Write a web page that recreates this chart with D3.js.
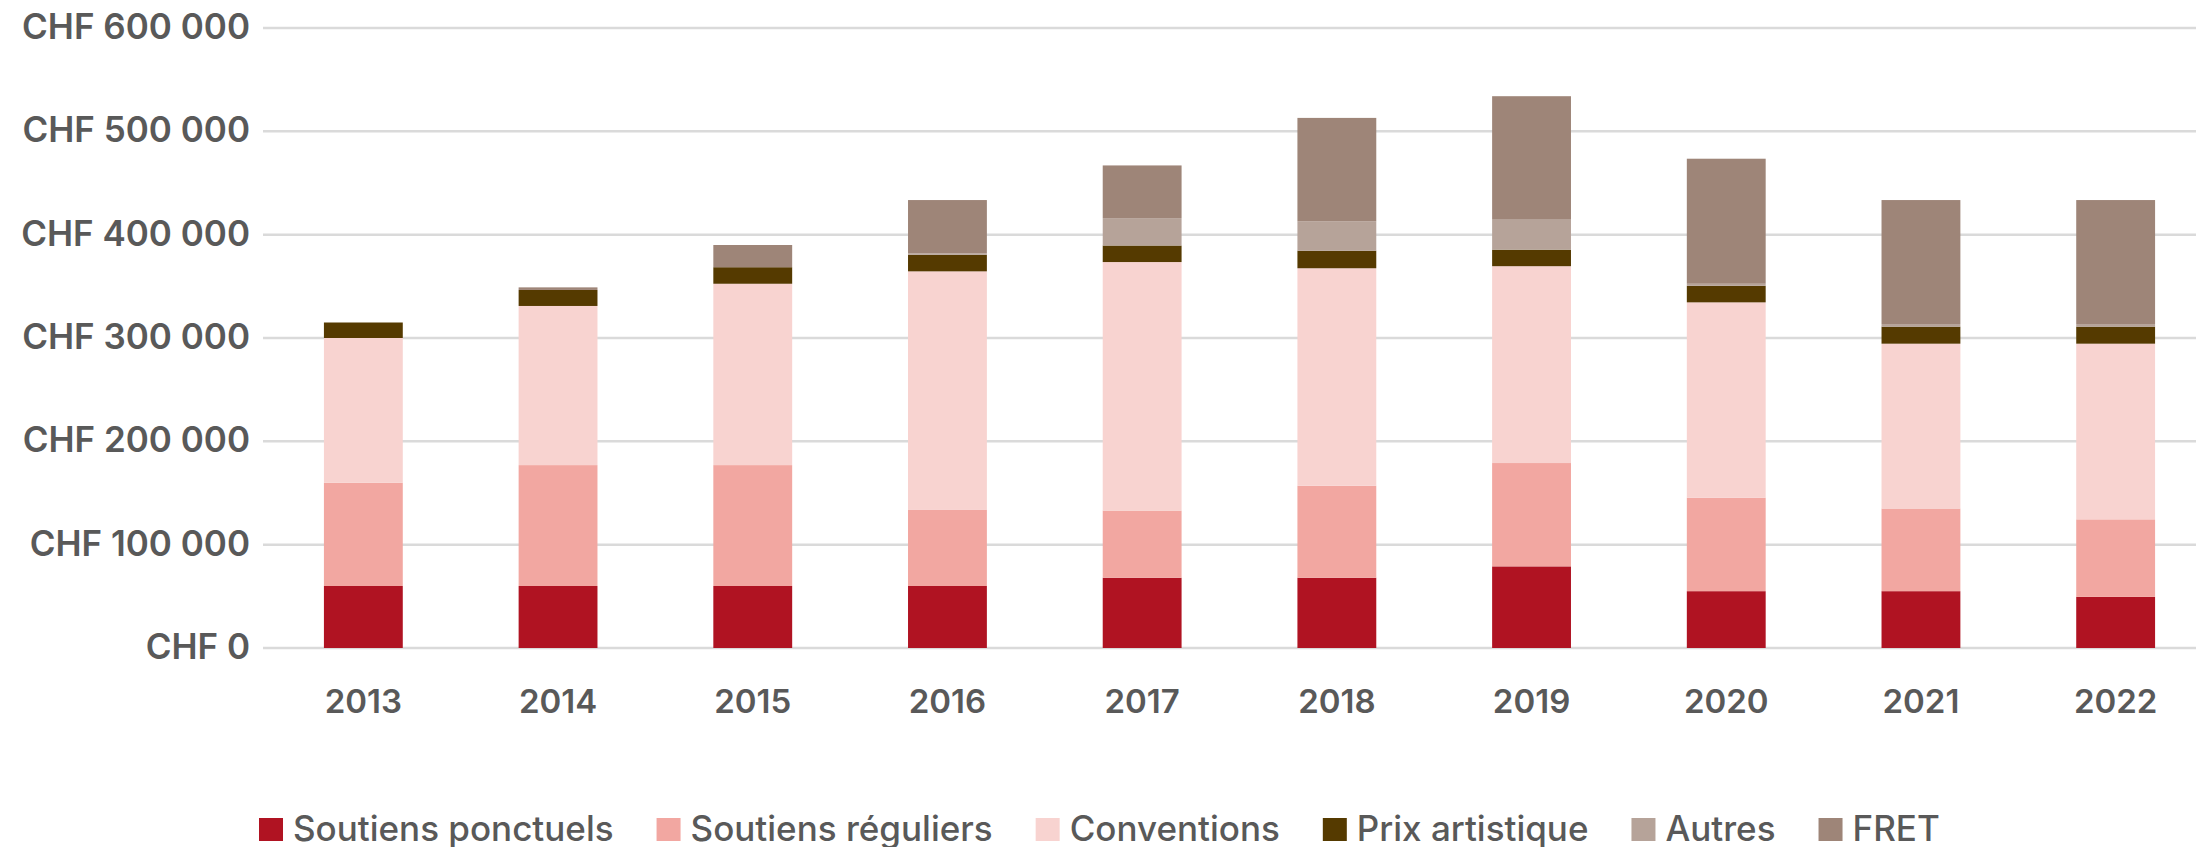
<!DOCTYPE html>
<html>
<head>
<meta charset="utf-8">
<script src="https://cdn.jsdelivr.net/npm/d3@7"></script>
<style>
  html, body { margin: 0; padding: 0; background: #fff; overflow: hidden; }
  text { font-family: Inter, "Open Sans", sans-serif; fill: #595959; }
</style>
</head>
<body>
<svg id="chart"></svg>
<script>
const years = ['2013', '2014', '2015', '2016', '2017', '2018', '2019', '2020', '2021', '2022'];
const series_names = ['Soutiens ponctuels', 'Soutiens réguliers', 'Conventions', 'Prix artistique', 'Autres', 'FRET'];
const series_keys = ['ponctuels', 'reguliers', 'conventions', 'prix', 'autres', 'fret'];
const series_colors = ['#b01322', '#f2a7a1', '#f8d3d0', '#553a00', '#b6a399', '#9e8578'];

const ponctuels   = [60000, 60000, 60000, 60000, 68000, 68000, 79000, 55000, 55000, 49500];
const reguliers   = [100000, 117000, 117000, 74000, 65000, 89000, 100000, 90500, 80000, 75000];
const conventions = [140000, 154000, 175500, 230500, 240500, 210500, 190500, 189000, 159500, 170000];
const prix        = [15000, 15500, 16000, 16000, 16000, 17000, 16000, 16000, 16500, 16500];
const autres      = [0, 0, 0, 1500, 26500, 28500, 29000, 2000, 2500, 2500];
const fret        = [0, 2500, 21500, 51500, 51000, 100000, 119500, 121000, 120000, 120000];

const y_ticks = [0, 100000, 200000, 300000, 400000, 500000, 600000];

// one row per year, built from the arrays above
const table = years.map( (y, i) => ({
    year: y,
    ponctuels: ponctuels[i],
    reguliers: reguliers[i],
    conventions: conventions[i],
    prix: prix[i],
    autres: autres[i],
    fret: fret[i]
}));

class StackedBarChart {

    constructor( config, data ) {
        this.config = {
            parent: config.parent,
            width: config.width || 256,
            height: config.height || 256,
            margin: config.margin || {top:10, right:10, bottom:10, left:10}
        }
        this.data = data;
        this.init();
    }

    init() {
        let self = this;

        self.svg = d3.select( self.config.parent )
            .attr('width', self.config.width)
            .attr('height', self.config.height);

        self.chart = self.svg.append('g')
            .attr('transform', `translate(${self.config.margin.left}, ${self.config.margin.top})`);

        self.inner_width = self.config.width - self.config.margin.left - self.config.margin.right;
        self.inner_height = self.config.height - self.config.margin.top - self.config.margin.bottom;

        self.xscale = d3.scaleBand()
            .domain( years )
            .range( [3, 1950] )
            .paddingInner( 0.595 )
            .paddingOuter( 0.2975 );

        self.yscale = d3.scaleLinear()
            .domain( [0, 600000] )
            .range( [self.inner_height, 0] );

        self.color = d3.scaleOrdinal()
            .domain( series_keys )
            .range( series_colors );

        self.grid_group = self.chart.append('g');
        self.bar_group = self.chart.append('g');
        self.xaxis_group = self.chart.append('g')
            .attr('transform', `translate(0, ${self.inner_height})`);
        self.yaxis_group = self.chart.append('g');
        self.legend_group = self.svg.append('g');
    }

    update() {
        let self = this;

        self.stacked = d3.stack()
            .keys( series_keys )( self.data );

        self.render();
    }

    render() {
        let self = this;
        const fmt = v => 'CHF ' + d3.format(',')(v).replace(/,/g, ' ');

        // horizontal grid
        self.grid_group.selectAll('line')
            .data( y_ticks )
            .join('line')
            .attr('x1', 0)
            .attr('x2', self.inner_width)
            .attr('y1', d => self.yscale(d))
            .attr('y2', d => self.yscale(d))
            .attr('stroke', '#dadada')
            .attr('stroke-width', 2.5);

        self.bar_group.selectAll('g')
            .data( self.stacked )
            .join('g')
            .attr('fill', d => self.color(d.key))
            .selectAll('rect')
            .data( d => d )
            .join('rect')
            .attr('x', d => self.xscale(d.data.year))
            .attr('width', self.xscale.bandwidth())
            .attr('y', d => self.yscale(d[1]))
            .attr('height', d => self.yscale(d[0]) - self.yscale(d[1]));

        const xaxis = d3.axisBottom( self.xscale ).tickSize(0).tickPadding(0);
        self.xaxis_group.call( xaxis );
        self.xaxis_group.select('.domain').remove();
        self.xaxis_group.selectAll('text')
            .attr('y', 53)
            .attr('dy', '0.36em')
            .attr('font-size', 33)
            .attr('font-weight', 600)
            .attr('font-family', 'Inter, sans-serif')
            .attr('fill', '#595959');

        const yaxis = d3.axisLeft( self.yscale )
            .tickValues( y_ticks )
            .tickFormat( fmt )
            .tickSize(0)
            .tickPadding(13);
        self.yaxis_group.call( yaxis );
        self.yaxis_group.select('.domain').remove();
        self.yaxis_group.selectAll('text')
            .attr('dy', '0.3em')
            .attr('font-size', 35)
            .attr('font-weight', 600)
            .attr('font-family', 'Inter, sans-serif')
            .attr('fill', '#595959');

        // legend, laid out by measured text width
        let x = 259;
        series_keys.forEach( (k, i) => {
            const item = self.legend_group.append('g')
                .attr('transform', `translate(${x}, 0)`);
            item.append('rect')
                .attr('x', 0).attr('y', 818)
                .attr('width', 24).attr('height', 23)
                .attr('fill', self.color(k));
            const t = item.append('text')
                .attr('x', 34)
                .attr('y', 841)
                .attr('font-size', 35)
                .attr('font-weight', 500)
                .attr('font-family', 'Inter, sans-serif')
                .attr('fill', '#595959')
                .text( series_names[i] );
            x += 34 + t.node().getComputedTextLength() + 43;
        });
    }
}

const chart = new StackedBarChart({
    parent: '#chart',
    width: 2196,
    height: 847,
    margin: {top: 28, right: 0, bottom: 199, left: 263}
}, table );
chart.update();
</script>
</body>
</html>
